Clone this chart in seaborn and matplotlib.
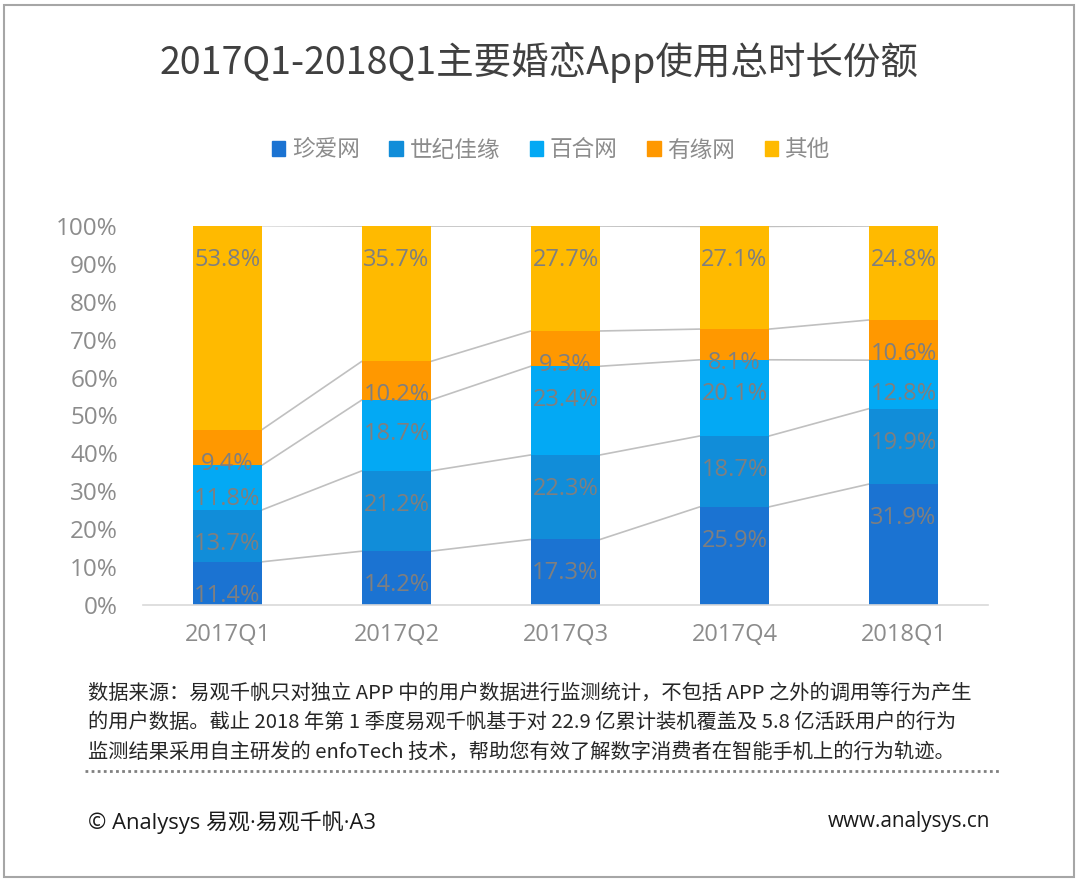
import numpy as np
import pandas as pd
import matplotlib
matplotlib.use("Agg")
import matplotlib.pyplot as plt
import seaborn as sns
from matplotlib.lines import Line2D
from matplotlib.patches import Rectangle

quarters = ["2017Q1", "2017Q2", "2017Q3", "2017Q4", "2018Q1"]
series_names = ["珍爱网", "世纪佳缘", "百合网", "有缘网", "其他"]
zhenai = [11.4, 14.2, 17.3, 25.9, 31.9]
jiayuan = [13.7, 21.2, 22.3, 18.7, 19.9]
baihe = [11.8, 18.7, 23.4, 20.1, 12.8]
youyuan = [9.4, 10.2, 9.3, 8.1, 10.6]
other = [53.8, 35.7, 27.7, 27.1, 24.8]
ytick_labels = ["0%", "10%", "20%", "30%", "40%", "50%", "60%", "70%", "80%", "90%", "100%"]

colors = ["#1B73D2", "#118DD9", "#03A9F4", "#FF9800", "#FFBA00"]

sns.set_theme(style="white")
plt.rcParams["font.family"] = ["Noto Sans CJK SC", "DejaVu Sans"]

W, H = 1080, 884
fig = plt.figure(figsize=(W / 100, H / 100), dpi=100)
ax = fig.add_axes([143 / W, 1 - 605 / H, (988 - 143) / W, (605 - 226) / H])

all_series = [zhenai, jiayuan, baihe, youyuan, other]
bottom = np.zeros(len(quarters))
tops = []
bw = 0.41
for name, vals, col in zip(series_names, all_series, colors):
    vals = np.array(vals, dtype=float)
    sns.barplot(x=quarters, y=vals, bottom=bottom, color=col, width=bw,
                ax=ax, saturation=1, linewidth=0, label=name)
    top = bottom + vals
    for i, (v, t) in enumerate(zip(vals, top)):
        ax.annotate(f"{v:.1f}%", xy=(i, t), xytext=(0, -24.5), textcoords="offset points",
                    ha="center", va="center", fontsize=17, color="#7F7F7F",
                    family=["Open Sans", "DejaVu Sans"])
    tops.append(top.copy())
    bottom = top

# series lines
for top in tops:
    for i in range(len(quarters) - 1):
        ax.plot([i + bw / 2, i + 1 - bw / 2], [top[i], top[i + 1]],
                color="#C0C0C0", lw=1.2, zorder=0.5)

ax.set_xlim(-0.5, 4.5)
ax.set_ylim(0, 100)
ax.set_yticks(np.arange(0, 101, 10))
ax.set_yticklabels(ytick_labels, family=["Open Sans", "DejaVu Sans"], fontsize=17.5, color="#8C8C8C")
ax.set_xticks(range(len(quarters)))
ax.set_xticklabels(quarters, family=["Open Sans", "DejaVu Sans"], fontsize=17, color="#8C8C8C")
ax.tick_params(axis="y", length=0, pad=18)
ax.tick_params(axis="x", length=0, pad=13)
for s in ["top", "right", "left"]:
    ax.spines[s].set_visible(False)
ax.spines["bottom"].set_color("#D9D9D9")
ax.spines["bottom"].set_linewidth(1.2)
ax.set_xlabel("")
ax.set_ylabel("")
leg = ax.get_legend()
if leg is not None:
    leg.remove()

# legend
handles = [Rectangle((0, 0), 1, 1, color=c) for c in colors]
fig.legend(handles, series_names, loc="center", bbox_to_anchor=(551 / W, 1 - 150 / H),
           ncol=5, frameon=False, fontsize=16.3, handlelength=0.6, handleheight=0.6,
           handletextpad=0.3, columnspacing=1.3, labelcolor="#8C8C8C")

# title
fig.text(539 / W, 1 - 62 / H, "2017Q1-2018Q1主要婚恋App使用总时长份额",
         ha="center", va="center", fontsize=27, color="#404040")

# footer
foot = ["数据来源：易观千帆只对独立 APP 中的用户数据进行监测统计，不包括 APP 之外的调用等行为产生",
        "的用户数据。截止 2018 年第 1 季度易观千帆基于对 22.9 亿累计装机覆盖及 5.8 亿活跃用户的行为",
        "监测结果采用自主研发的 enfoTech 技术，帮助您有效了解数字消费者在智能手机上的行为轨迹。"]
for k, line in enumerate(foot):
    fig.text(88 / W, 1 - (693 + 29.5 * k) / H, line, ha="left", va="center",
             fontsize=14.6, color="#262626")
fig.add_artist(Line2D([85 / W, 1000 / W], [1 - 771 / H, 1 - 771 / H], color="#808080",
                      lw=2, linestyle=(0, (1, 1.2))))
fig.text(88 / W, 1 - 822 / H, "© Analysys 易观·易观千帆·A3", ha="left", va="center",
         fontsize=15.8, color="#1A1A1A", family=["Open Sans", "Noto Sans CJK SC"])
fig.text(990 / W, 1 - 822 / H, "www.analysys.cn", ha="right", va="center",
         fontsize=14.9, color="#1A1A1A", family=["Open Sans", "DejaVu Sans"])

# frame
fig.add_artist(Rectangle((4 / W, 1 - 877 / H), (1074 - 4) / W, (877 - 5) / H,
                         fill=False, edgecolor="#A6A6A6", lw=1.5, transform=fig.transFigure))

fig.savefig("out.png", dpi=100)
